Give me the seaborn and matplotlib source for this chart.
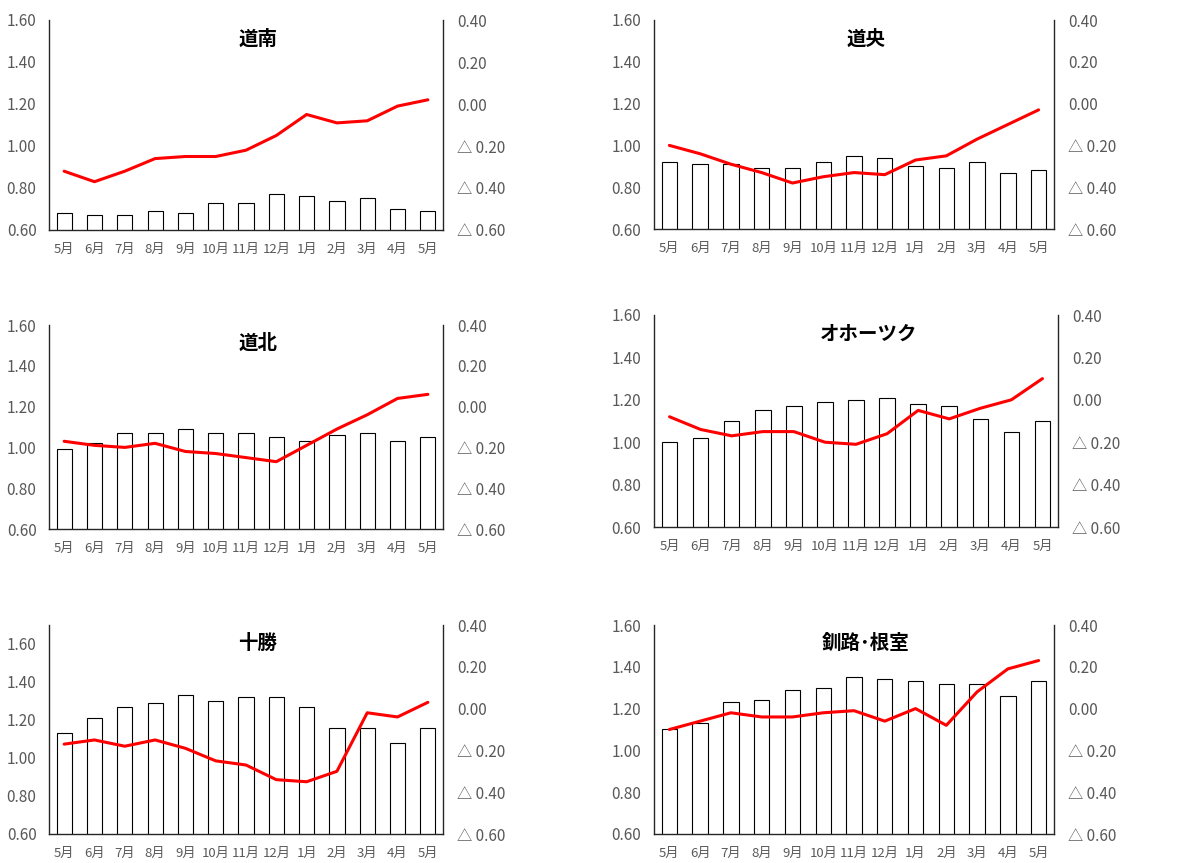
import numpy as np
import pandas as pd
import matplotlib
matplotlib.use('Agg')
import matplotlib.pyplot as plt
import seaborn as sns
from matplotlib.ticker import FuncFormatter, MultipleLocator

sns.set_theme(style="white")
plt.rcParams['font.family'] = ['Noto Sans CJK JP', 'DejaVu Sans']

months = ['5月', '6月', '7月', '8月', '9月', '10月', '11月', '12月', '1月', '2月', '3月', '4月', '5月']

# bars = left axis, line = right axis (difference)
dounan_bar = [0.68, 0.67, 0.67, 0.69, 0.68, 0.73, 0.73, 0.77, 0.76, 0.74, 0.75, 0.70, 0.69]
dounan_line = [-0.32, -0.37, -0.32, -0.26, -0.25, -0.25, -0.22, -0.15, -0.05, -0.09, -0.08, -0.01, 0.02]

douou_bar = [0.92, 0.91, 0.91, 0.89, 0.89, 0.92, 0.95, 0.94, 0.90, 0.89, 0.92, 0.87, 0.88]
douou_line = [-0.20, -0.24, -0.29, -0.33, -0.38, -0.35, -0.33, -0.34, -0.27, -0.25, -0.17, -0.10, -0.03]

douhoku_bar = [0.99, 1.02, 1.07, 1.07, 1.09, 1.07, 1.07, 1.05, 1.03, 1.06, 1.07, 1.03, 1.05]
douhoku_line = [-0.17, -0.19, -0.20, -0.18, -0.22, -0.23, -0.25, -0.27, -0.19, -0.11, -0.04, 0.04, 0.06]

okhotsk_bar = [1.00, 1.02, 1.10, 1.15, 1.17, 1.19, 1.20, 1.21, 1.18, 1.17, 1.11, 1.05, 1.10]
okhotsk_line = [-0.08, -0.14, -0.17, -0.15, -0.15, -0.20, -0.21, -0.16, -0.05, -0.09, -0.04, 0.00, 0.10]

tokachi_bar = [1.13, 1.21, 1.27, 1.29, 1.33, 1.30, 1.32, 1.32, 1.27, 1.16, 1.16, 1.08, 1.16]
tokachi_line = [-0.17, -0.15, -0.18, -0.15, -0.19, -0.25, -0.27, -0.34, -0.35, -0.30, -0.02, -0.04, 0.03]

kushiro_bar = [1.10, 1.13, 1.23, 1.24, 1.29, 1.30, 1.35, 1.34, 1.33, 1.32, 1.32, 1.26, 1.33]
kushiro_line = [-0.10, -0.06, -0.02, -0.04, -0.04, -0.02, -0.01, -0.06, 0.00, -0.08, 0.08, 0.19, 0.23]

panels = [
    ('道南', dounan_bar, dounan_line, (49, 20, 443, 230), 1.6),
    ('道央', douou_bar, douou_line, (654, 20, 1054, 229), 1.6),
    ('道北', douhoku_bar, douhoku_line, (49, 325, 443, 529), 1.6),
    ('オホーツク', okhotsk_bar, okhotsk_line, (654, 315, 1058, 527), 1.6),
    ('十勝', tokachi_bar, tokachi_line, (49, 625, 443, 834), 1.7),
    ('釧路･根室', kushiro_bar, kushiro_line, (654, 625, 1054, 834), 1.6),
]

W, H = 1192, 863
fig = plt.figure(figsize=(W / 100, H / 100), dpi=100)

lab_col = '#595959'


def right_fmt(v, p):
    if v < -1e-9:
        return '△ %.2f' % abs(v)
    return '%.2f' % abs(v)


for title, bars, line, (x0, y0, x1, y1), top in panels:
    ax = fig.add_axes([x0 / W, 1 - y1 / H, (x1 - x0) / W, (y1 - y0) / H])
    df = pd.DataFrame({'pos': range(len(months)), 'val': bars, 'diff': line})
    sns.barplot(x='pos', y='val', data=df, color='white', edgecolor='black',
                linewidth=0.8, width=0.5, saturation=1, ax=ax)
    ax.set_ylim(0.6, top)
    ax.yaxis.set_major_locator(MultipleLocator(0.2))
    ax.yaxis.set_major_formatter(FuncFormatter(lambda v, p: '%.2f' % v if v <= 1.601 else ''))
    ax.set_xlim(-0.5, 12.5)
    ax.set_xticks(range(len(months)))
    ax.set_xticklabels(months)
    ax.set_xlabel('')
    ax.set_ylabel('')
    ax.tick_params(axis='y', length=0, pad=9, labelsize=11, labelcolor=lab_col)
    ax.tick_params(axis='x', length=0, pad=9, labelsize=9.5, labelcolor=lab_col)
    for s in ['top', 'right']:
        ax.spines[s].set_visible(False)
    for s in ['left', 'bottom']:
        ax.spines[s].set_color('#262626')
        ax.spines[s].set_linewidth(1.0)

    ax2 = ax.twinx()
    sns.lineplot(x='pos', y='diff', data=df, color='#ff0000', linewidth=2.2, ax=ax2)
    ax2.set_ylim(-0.6, 0.4)
    ax2.yaxis.set_major_locator(MultipleLocator(0.2))
    ax2.yaxis.set_major_formatter(FuncFormatter(right_fmt))
    ax2.set_xlim(-0.5, 12.5)
    ax2.set_ylabel('')
    ax2.tick_params(axis='y', length=0, pad=10, labelsize=11, labelcolor=lab_col)
    for s in ['top', 'left', 'bottom']:
        ax2.spines[s].set_visible(False)
    ax2.spines['right'].set_color('#262626')
    ax2.spines['right'].set_linewidth(1.0)

    ax.text(0.53, 0.91, title, transform=ax.transAxes, ha='center', va='center',
            fontsize=14, fontweight='bold', color='black')

fig.savefig('out.png', dpi=100, facecolor='white')
